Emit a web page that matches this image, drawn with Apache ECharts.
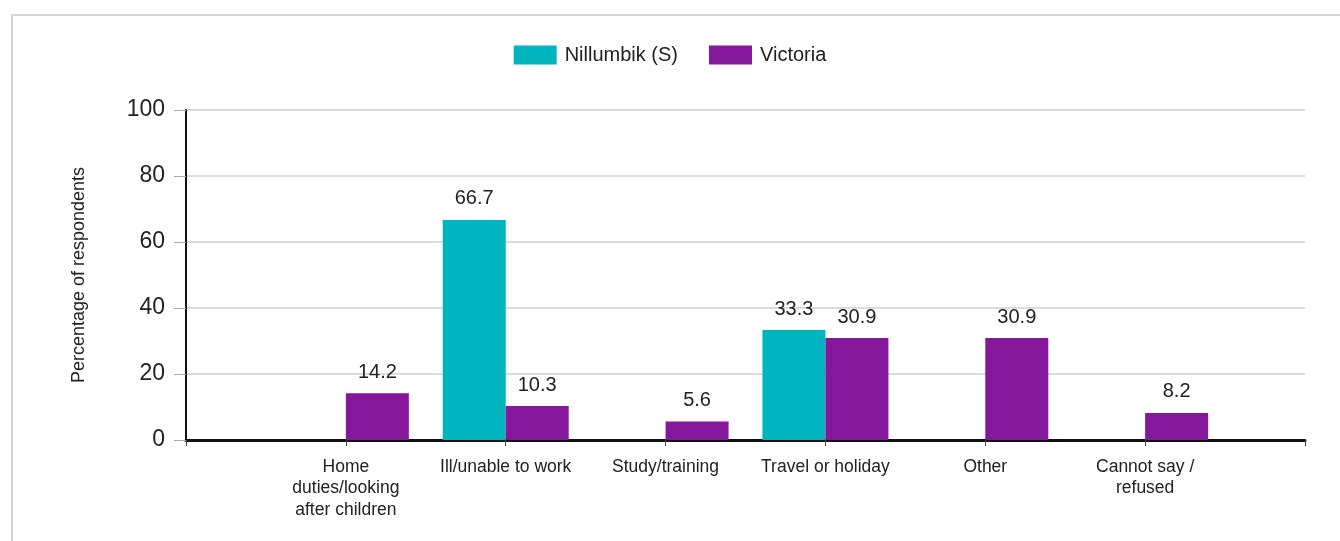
<!DOCTYPE html>
<html>
<head>
<meta charset="utf-8">
<script src="https://cdn.jsdelivr.net/npm/echarts@6/dist/echarts.min.js"></script>
<style>
    body { margin: 0; background: #fff; }
    #wrap { position: relative; width: 1340px; height: 541px; }
    #box { width: 1340px; height: 541px; }
    #frame {
        position: absolute; left: 11px; top: 14px; right: -4px; bottom: -4px;
        border: 2px solid #d6d6d6;
        pointer-events: none;
    }
</style>
</head>
<body>
<div id="wrap" style="overflow:hidden">
    <div id="box"></div>
    <div id="frame"></div>
</div>
<script>
// 数据
var categories = ['', 'Home\nduties/looking\nafter children', 'Ill/unable to work', 'Study/training',
    'Travel or holiday', 'Other', 'Cannot say /\nrefused', ''];
var nillumbik = [null, null, 66.7, null, 33.3, null, null, null];
var victoria = [null, 14.2, 10.3, 5.6, 30.9, 30.9, 8.2, null];
var yTicks = [0, 20, 40, 60, 80, 100];

var font = "'Liberation Sans', Arial, sans-serif";

var myChart = echarts.init(document.getElementById('box'));

var barLabel = {
    show: true,
    position: 'top',
    distance: 11,
    color: '#222',
    fontSize: 20,
    fontFamily: font,
    formatter: function (p) { return p.value == null ? '' : p.value.toFixed(1); }
};

var option = {
    textStyle: { fontFamily: font },
    legend: {
        top: 40,
        left: 'center',
        itemWidth: 43,
        itemHeight: 19,
        itemGap: 31,
        icon: 'rect',
        textStyle: { fontSize: 20, color: '#222', fontFamily: font, padding: [0, 0, 0, 3] },
        data: ['Nillumbik (S)', 'Victoria']
    },
    grid: { left: 186, right: 35, top: 110, bottom: 101 },
    xAxis: {
        type: 'category',
        boundaryGap: false,
        data: categories,
        axisLine: { lineStyle: { color: '#111', width: 3 } },
        axisTick: { show: true, length: 6, lineStyle: { color: '#444' } },
        axisLabel: {
            interval: 0,
            fontSize: 17.5,
            lineHeight: 21.5,
            color: '#222',
            margin: 16,
            fontFamily: font
        },
        splitLine: { show: false }
    },
    yAxis: {
        type: 'value',
        min: yTicks[0],
        max: yTicks[yTicks.length - 1],
        interval: 20,
        name: 'Percentage of respondents',
        nameLocation: 'middle',
        nameGap: 98,
        nameTextStyle: { fontSize: 18, color: '#222', fontFamily: font },
        axisLine: { show: true, lineStyle: { color: '#111', width: 2 } },
        axisTick: { show: true, length: 12, lineStyle: { color: '#aaa' } },
        axisLabel: { fontSize: 23, color: '#222', margin: 21, fontFamily: font },
        splitLine: { lineStyle: { color: '#dcdcdc', width: 2 } }
    },
    series: [{
        name: 'Nillumbik (S)',
        type: 'bar',
        data: nillumbik,
        barWidth: 63,
        barGap: '0%',
        itemStyle: { color: '#00b5bd' },
        label: barLabel
    }, {
        name: 'Victoria',
        type: 'bar',
        data: victoria,
        barWidth: 63,
        barGap: '0%',
        itemStyle: { color: '#85179a' },
        label: barLabel
    }]
};

myChart.setOption(option);
</script>
</body>
</html>
